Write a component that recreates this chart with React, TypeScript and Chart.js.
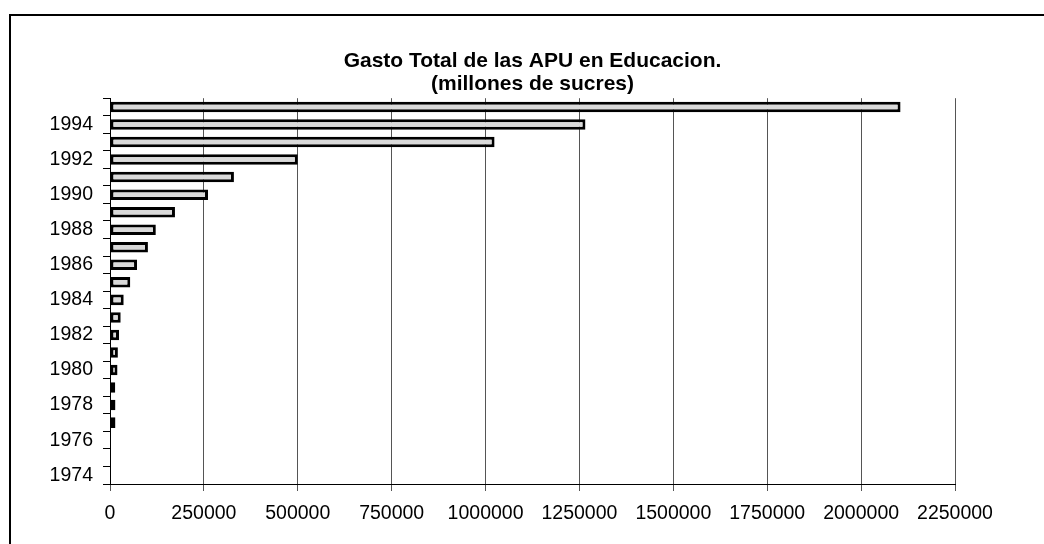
import React, { useEffect, useRef } from "react";
import { Chart, registerables } from "chart.js";

Chart.register(...registerables);

const years: string[] = [
  "1974", "1975", "1976", "1977", "1978", "1979", "1980", "1981", "1982", "1983", "1984",
  "1985", "1986", "1987", "1988", "1989", "1990", "1991", "1992", "1993", "1994", "1995",
];
const gasto: number[] = [
  0, 0, 0, 14500, 14500, 14000, 20000, 21000, 24000, 28500, 36500,
  54000, 72000, 101000, 122000, 173000, 261000, 330000, 500000, 1024000, 1266000, 2105000,
];
const titleLines: string[] = ["Gasto Total de las APU en Educacion.", "(millones de sucres)"];
const xMin = 0;
const xMax = 2250000;
const xStep = 250000;

const FONT = "'Liberation Sans', Arial, sans-serif";

export default function App() {
  const ref = useRef<HTMLCanvasElement | null>(null);
  useEffect(() => {
    if (!ref.current) return;
    const chart = new Chart(ref.current, {
      type: "bar",
      data: {
        labels: years,
        datasets: [
          {
            data: gasto,
            backgroundColor: "#d9d9d9",
            borderColor: "#000000",
            borderWidth: 3,
            borderSkipped: false,
            barPercentage: 0.6,
            categoryPercentage: 1,
          },
        ],
      },
      options: {
        indexAxis: "y",
        animation: false,
        responsive: false,
        maintainAspectRatio: false,
        layout: { padding: { top: 50, right: 89, bottom: 0, left: 0 } },
        plugins: {
          legend: { display: false },
          tooltip: { enabled: false },
          title: {
            display: true,
            text: titleLines,
            color: "#000",
            fullSize: false,
            font: { family: FONT, size: 21, weight: "bold", lineHeight: 1.1 },
            padding: { top: 0, bottom: 2 },
          },
        },
        scales: {
          x: {
            type: "linear",
            min: xMin,
            max: xMax,
            afterFit: (s: any) => {
              s.height = 60;
            },
            ticks: {
              stepSize: xStep,
              color: "#000",
              padding: 11,
              maxRotation: 0,
              font: { family: FONT, size: 19.5 },
              callback: (v: any) => String(v),
            },
            grid: { color: "#555555", lineWidth: 1, tickLength: 7, drawOnChartArea: true },
            border: { color: "#000", width: 1 },
          },
          y: {
            type: "category",
            reverse: true,
            afterFit: (s: any) => {
              s.width = 110;
            },
            ticks: {
              autoSkip: false,
              color: "#000",
              padding: 10,
              font: { family: FONT, size: 19.5 },
              callback: function (this: any, _v: any, i: number) {
                const y = parseInt(years[i], 10);
                return y % 2 === 0 ? years[i] : "";
              },
            },
            grid: { color: "#000", drawOnChartArea: false, tickLength: 7, offset: true },
            border: { color: "#000", width: 1 },
          },
        },
      },
    });
    return () => chart.destroy();
  }, []);

  return (
    <div style={{ position: "absolute", left: 0, top: 0, width: 1044, height: 544, overflow: "hidden", background: "#fff" }}>
      <div
        style={{
          position: "absolute",
          left: 9,
          top: 14,
          width: 1200,
          height: 700,
          border: "2px solid #000",
          boxSizing: "border-box",
        }}
      />
      <canvas ref={ref} width={1044} height={544} style={{ position: "absolute", left: 0, top: 0, width: 1044, height: 544 }} />
    </div>
  );
}
